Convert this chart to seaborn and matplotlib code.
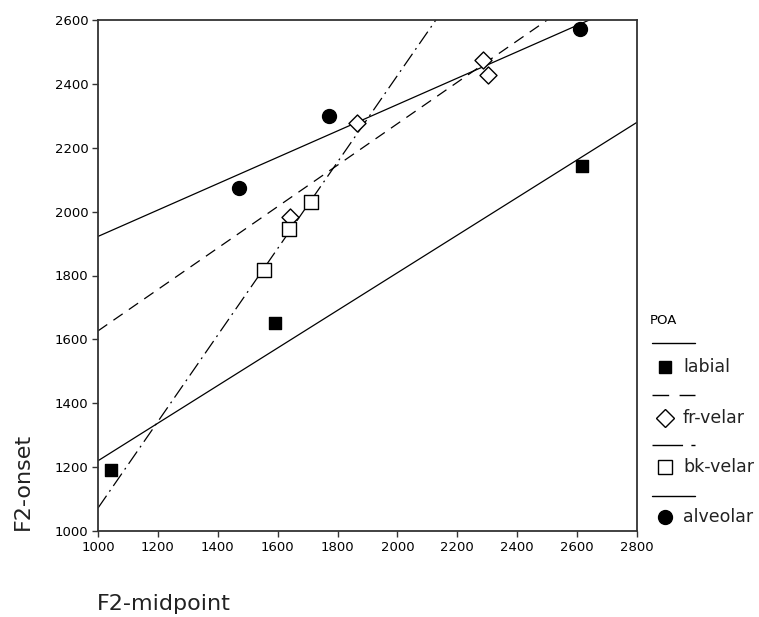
import numpy as np
import matplotlib.pyplot as plt
from matplotlib.lines import Line2D
import seaborn as sns
import pandas as pd

# values
labial_x = [1043, 1591, 2617]
labial_y = [1191, 1651, 2143]
frvelar_x = [1641, 1865, 2286, 2303]
frvelar_y = [1983, 2277, 2475, 2428]
bkvelar_x = [1554, 1638, 1711]
bkvelar_y = [1818, 1945, 2030]
alveolar_x = [1471, 1771, 2610]
alveolar_y = [2074, 2299, 2572]

poa = ['labial', 'fr-velar', 'bk-velar', 'alveolar']
x_ticks = list(range(1000, 2801, 200))
y_ticks = list(range(1000, 2601, 200))

df = pd.DataFrame({
    'F2-midpoint': labial_x + frvelar_x + bkvelar_x + alveolar_x,
    'F2-onset': labial_y + frvelar_y + bkvelar_y + alveolar_y,
    'POA': ['labial'] * 3 + ['fr-velar'] * 4 + ['bk-velar'] * 3 + ['alveolar'] * 3,
})

# marker / line style per group (SPSS look)
styles = {
    'labial': dict(marker='s', s=70, fc='black', ec='black', dashes=()),
    'fr-velar': dict(marker='D', s=75, fc='white', ec='black', dashes=(9, 6)),
    'bk-velar': dict(marker='s', s=95, fc='white', ec='black', dashes=(12, 4, 1.5, 4)),
    'alveolar': dict(marker='o', s=100, fc='black', ec='black', dashes=()),
}

sns.set_style("white")
plt.rcParams['font.family'] = ['DejaVu Sans']
plt.rcParams['text.color'] = 'black'
plt.rcParams['xtick.color'] = 'black'
plt.rcParams['ytick.color'] = 'black'

fig = plt.figure(figsize=(7.59, 6.17), dpi=100)
ax = fig.add_axes([98 / 759, 1 - 531 / 617, 539 / 759, 511 / 617])
ax.set_xlim(1000, 2800)
ax.set_ylim(1000, 2600)

for name in poa:
    st = styles[name]
    sub = df[df['POA'] == name]
    lk = dict(color='black', lw=0.9)
    if st['dashes']:
        lk['dashes'] = st['dashes']
    sns.regplot(x='F2-midpoint', y='F2-onset', data=sub, ax=ax, ci=None,
                truncate=False, marker=st['marker'],
                scatter_kws=dict(s=st['s'], facecolors=st['fc'], edgecolors=st['ec'],
                                 linewidths=1.0, alpha=1, zorder=3),
                line_kws=lk)

ax.set_xlim(1000, 2800)
ax.set_ylim(1000, 2600)
ax.set_xticks(x_ticks)
ax.set_yticks(y_ticks)
ax.tick_params(axis='both', direction='out', length=4, width=1, color='#333333',
               labelsize=9.5, pad=3, bottom=True, left=True, labelcolor='black')
for sp in ax.spines.values():
    sp.set_visible(True)
    sp.set_color('#333333')
    sp.set_linewidth(1.3)
ax.set_xlabel('')
ax.set_ylabel('')

# axis titles placed like the original export
fig.text(23 / 759, 1 - 481 / 617, 'F2-onset', rotation=90, fontsize=16,
         ha='center', va='center', color='#222222')
fig.text(97 / 759, 1 - 604 / 617, 'F2-midpoint', fontsize=16, ha='left', va='center',
         color='#222222')

# legend: line sample above each marker entry (dash lengths in points, lw=1)
fig.text(650 / 759, 1 - 320 / 617, 'POA', fontsize=9.5, ha='left', va='center')
leg_rows = [
    ('labial', 343, 367, (), 's', 'black', 9),
    ('fr-velar', 395, 418, (12, 7.5), 'D', 'white', 9),
    ('bk-velar', 445, 467, (22, 6, 3.5, 2), 's', 'white', 10),
    ('alveolar', 496, 517, (), 'o', 'black', 10),
]
for label, ly, my, dsh, mk, fc, ms in leg_rows:
    ln = Line2D([652 / 759, 695 / 759], [1 - ly / 617, 1 - ly / 617],
                transform=fig.transFigure, color='black', lw=1.0)
    if dsh:
        ln.set_dashes(dsh)
    fig.add_artist(ln)
    fig.add_artist(Line2D([665 / 759], [1 - my / 617], transform=fig.transFigure,
                          marker=mk, markersize=ms, markerfacecolor=fc,
                          markeredgecolor='black', markeredgewidth=1.0, linestyle='none'))
    fig.text(683 / 759, 1 - my / 617, label, fontsize=12.5, ha='left', va='center',
             color='#222222')

fig.savefig('out.png', dpi=100)
